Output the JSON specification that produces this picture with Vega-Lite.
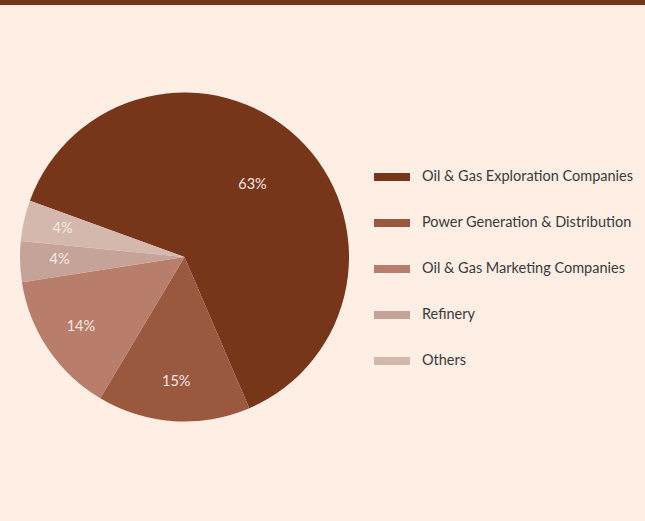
{
  "$schema": "https://vega.github.io/schema/vega-lite/v6.json",
  "width": 369,
  "height": 514,
  "autosize": {"type": "none"},
  "padding": {"left": 0, "top": 0, "right": 276, "bottom": 7},
  "background": "#feeee4",
  "config": {"view": {"stroke": null}},
  "data": {
    "values": [
      {"sector": "Oil & Gas Exploration Companies", "share": 0.63},
      {"sector": "Power Generation & Distribution", "share": 0.15},
      {"sector": "Oil & Gas Marketing Companies", "share": 0.14},
      {"sector": "Refinery", "share": 0.04},
      {"sector": "Others", "share": 0.04}
    ]
  },
  "layer": [
    {
      "mark": {"type": "arc", "outerRadius": 164.5},
      "encoding": {
        "theta": {"field": "share", "type": "quantitative", "stack": true, "scale": {"range": [5.0615, 11.3446]}},
        "order": {"field": "share", "type": "quantitative", "sort": "descending"},
        "color": {
          "field": "sector",
          "type": "nominal",
          "sort": ["Oil & Gas Exploration Companies", "Power Generation & Distribution", "Oil & Gas Marketing Companies", "Refinery", "Others"],
          "scale": {
            "domain": ["Oil & Gas Exploration Companies", "Power Generation & Distribution", "Oil & Gas Marketing Companies", "Refinery", "Others"],
            "range": ["#77361a", "#9a583f", "#b97e6b", "#c6a398", "#d4b8ae"]
          },
          "legend": {
            "title": null,
            "orient": "none",
            "legendX": 374,
            "legendY": 159,
            "padding": 0,
            "symbolType": "M-1,-0.22H1V0.22H-1Z",
            "symbolSize": 1296,
            "symbolStrokeWidth": 0,
            "symbolOpacity": 1,
            "labelFont": "Lato",
            "labelFontSize": 14.5,
            "labelColor": "#3a3a3a",
            "labelOffset": 12,
            "labelLimit": 400,
            "rowPadding": 21
          }
        }
      }
    },
    {
      "mark": {"type": "text", "radius": {"expr": "datum.share > 0.5 ? 99 : 125"}, "font": "Lato", "fontSize": 14.5, "color": "#f6e9e2"},
      "encoding": {
        "theta": {"field": "share", "type": "quantitative", "stack": true},
        "order": {"field": "share", "type": "quantitative", "sort": "descending"},
        "text": {"field": "share", "type": "quantitative", "format": ".0%"}
      }
    },
    {
      "mark": {"type": "rect", "color": "#763619"},
      "encoding": {
        "x": {"value": 0},
        "x2": {"value": 645},
        "y": {"value": 0},
        "y2": {"value": 5}
      }
    }
  ]
}
